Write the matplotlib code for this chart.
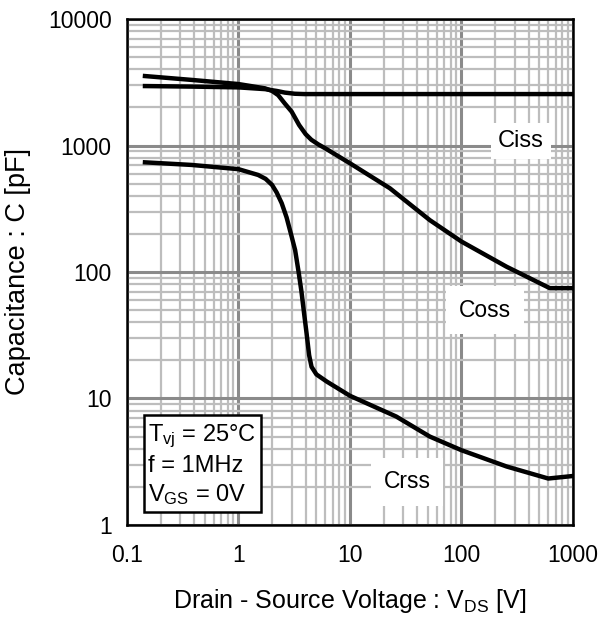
import numpy as np
import matplotlib.pyplot as plt
from matplotlib.ticker import LogLocator, NullFormatter

plt.rcParams['font.family'] = ['Liberation Sans', 'DejaVu Sans']
plt.rcParams['mathtext.fontset'] = 'custom'
plt.rcParams['mathtext.rm'] = 'Liberation Sans'

# capacitance vs drain-source voltage (pF vs V)
vds_ciss = [0.145, 0.4, 1.0, 1.73, 2.2, 2.6, 3.2, 3.9, 10, 100, 1000]
ciss = [2950, 2920, 2880, 2790, 2700, 2620, 2565, 2550, 2550, 2550, 2550]

vds_coss = [0.145, 0.38, 1.0, 1.73, 2.0, 2.27, 2.6, 3.0, 3.5, 4.0, 4.5, 5.2, 6.0,
            10, 22.8, 52, 100, 254, 620, 1000]
coss = [3540, 3300, 3060, 2830, 2700, 2500, 2150, 1850, 1450, 1230, 1110, 1020, 950,
        723, 459, 257, 174, 110, 74.5, 74.5]

vds_crss = [0.145, 0.38, 1.0, 1.5, 1.75, 2.0, 2.2, 2.44, 2.7, 3.0, 3.22, 3.46, 3.67,
            3.9, 4.08, 4.3, 4.52, 5.0, 6.2, 10, 26, 52, 100, 254, 600, 1000]
crss = [736, 702, 650, 585, 545, 488, 425, 350, 270, 190, 149, 100, 70,
        45, 32.7, 22, 17.8, 15.5, 13.6, 10.5, 7.2, 5.0, 3.9, 2.9, 2.33, 2.44]

fig = plt.figure(figsize=(6.01, 6.21), dpi=100)
ax = fig.add_axes([0.2113, 0.1546, 0.7421, 0.8148])

ax.set_xscale('log')
ax.set_yscale('log')
ax.set_xlim(0.1, 1000)
ax.set_ylim(1, 10000)

ax.xaxis.set_minor_locator(LogLocator(base=10, subs=np.arange(2, 10)))
ax.yaxis.set_minor_locator(LogLocator(base=10, subs=np.arange(2, 10)))
ax.xaxis.set_minor_formatter(NullFormatter())
ax.yaxis.set_minor_formatter(NullFormatter())
ax.grid(True, which='minor', color='#bdbdbd', lw=1.6)
ax.grid(True, which='major', color='#8a8a8a', lw=2.2)
ax.set_axisbelow(True)

ax.set_xticks([0.1, 1, 10, 100, 1000])
ax.set_xticklabels(['0.1', '1', '10', '100', '1000'])
ax.set_yticks([1, 10, 100, 1000, 10000])
ax.set_yticklabels(['1', '10', '100', '1000', '10000'])
ax.tick_params(which='both', length=0, labelsize=16.5, pad=14)
ax.tick_params(axis='y', pad=11)

for s in ax.spines.values():
    s.set_linewidth(1.8)

for v, c in [(vds_ciss, ciss), (vds_coss, coss), (vds_crss, crss)]:
    ax.plot(v, c, color='black', lw=3.2, solid_joinstyle='round')

ax.text(340, 1080, 'Ciss', fontsize=17, ha='center', va='center',
        bbox=dict(facecolor='white', edgecolor='none', boxstyle='square,pad=0.3'))
ax.text(163, 50, 'Coss', fontsize=16.5, ha='center', va='center',
        bbox=dict(facecolor='white', edgecolor='none', boxstyle='square,pad=0.55'))
ax.text(32.5, 2.19, 'Crss', fontsize=16.5, ha='center', va='center',
        bbox=dict(facecolor='white', edgecolor='none', boxstyle='square,pad=0.55'))

ax.text(0.048, 0.035,
        '$\\mathregular{T_{vj}}$ = 25°C\nf = 1MHz\n$\\mathregular{V_{GS}}$ = 0V',
        transform=ax.transAxes, fontsize=17, ha='left', va='bottom',
        linespacing=1.3,
        bbox=dict(facecolor='white', edgecolor='black', lw=1.8, boxstyle='square,pad=0.18'))

ax.set_xlabel('Drain - Source Voltage : $\\mathregular{V_{DS}}$ [V]', fontsize=18, labelpad=14)
ax.set_ylabel('Capacitance : C [pF]', fontsize=19.5, labelpad=12)

fig.savefig('out.png', dpi=100)
